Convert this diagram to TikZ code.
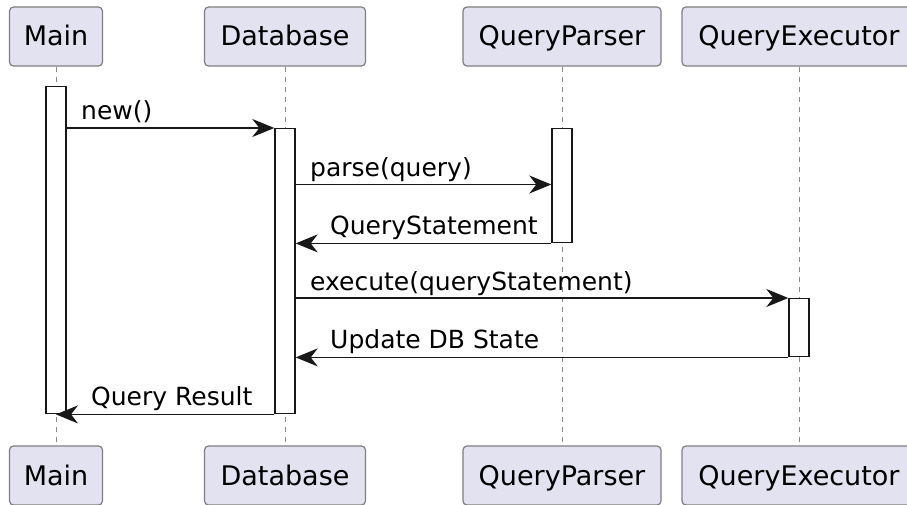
\documentclass[tikz,border=0pt]{standalone}
\usepackage{fontspec}
\setmainfont{DejaVu Sans}
\usetikzlibrary{arrows.meta}

\definecolor{partfill}{HTML}{E2E2F0}
\definecolor{partline}{HTML}{7F7F7F}
\definecolor{ink}{HTML}{181818}
\definecolor{lifegray}{HTML}{8A8A8A}

\tikzset{
  participant/.style={draw=partline, fill=partfill, line width=1.2pt,
    rounded corners=4pt, inner sep=0pt, minimum height=59pt,
    text height=21pt, text depth=2pt, text=black,
    font=\fontsize{27}{32}\selectfont},
  lifeline/.style={draw=lifegray, line width=1pt, dash pattern=on 5pt off 5pt},
  activation/.style={draw=ink, fill=white, line width=1.4pt, inner sep=0pt,
    minimum width=20pt, anchor=north},
  msg/.style={draw=ink, line width=1.4pt,
    -{Stealth[length=22pt, width=18pt, inset=7pt]}},
  msgtext/.style={anchor=base west, inner sep=0pt, text=black,
    font=\fontsize{25}{30}\selectfont}
}

\begin{document}
\begin{tikzpicture}[x=1pt, y=-1pt]
  \clip (0,0) rectangle (907,505);
  \fill[white] (0,0) rectangle (907,505);

  % participant heads and feet
  \node[participant, minimum width=93pt]  (mainT) at (56,36.5)    {Main};
  \node[participant, minimum width=161pt] (dbT)   at (285,36.5)   {Database};
  \node[participant, minimum width=198pt] (qpT)   at (562,36.5)   {QueryParser};
  \node[participant, minimum width=234pt] (qeT)   at (799,36.5)   {QueryExecutor};
  \node[participant, minimum width=93pt]  (mainB) at (56,475.5)   {Main};
  \node[participant, minimum width=161pt] (dbB)   at (285,475.5)  {Database};
  \node[participant, minimum width=198pt] (qpB)   at (562,475.5)  {QueryParser};
  \node[participant, minimum width=234pt] (qeB)   at (799,475.5)  {QueryExecutor};

  % lifelines
  \draw[lifeline] (mainT.south) -- (mainB.north);
  \draw[lifeline] (dbT.south)   -- (dbB.north);
  \draw[lifeline] (qpT.south)   -- (qpB.north);
  \draw[lifeline] (qeT.south)   -- (qeB.north);

  % activation bars
  \node[activation, minimum height=327pt] (mainA) at (56,86)  {};
  \node[activation, minimum height=285pt] (dbA)   at (285,128) {};
  \node[activation, minimum height=114pt] (qpA)   at (562,128) {};
  \node[activation, minimum height=58pt]  (qeA)   at (799,298) {};

  % message rows
  \coordinate (r2) at (0,184.5);

  % messages
  \draw[msg] (mainA.east |- dbA.north) -- (dbA.north west);
  \node[msgtext] (m1) at (81,120) {new()};

  \draw[msg] (dbA.east |- r2) -- (qpA.west |- r2);
  \node[msgtext] (m2) at (310,176.5) {parse(query)};

  \draw[msg] (qpA.south west) -- (dbA.east |- qpA.south);
  \node[msgtext] (m3) at (330,234) {QueryStatement};

  \draw[msg] (dbA.east |- qeA.north) -- (qeA.north west);
  \node[msgtext] (m4) at (310,290) {execute(queryStatement)};

  \draw[msg] (qeA.south west) -- (dbA.east |- qeA.south);
  \node[msgtext] (m5) at (330,348) {Update DB State};

  \draw[msg] (dbA.south west) -- (mainA.south);
  \node[msgtext] (m6) at (91,405) {Query Result};
\end{tikzpicture}
\end{document}
